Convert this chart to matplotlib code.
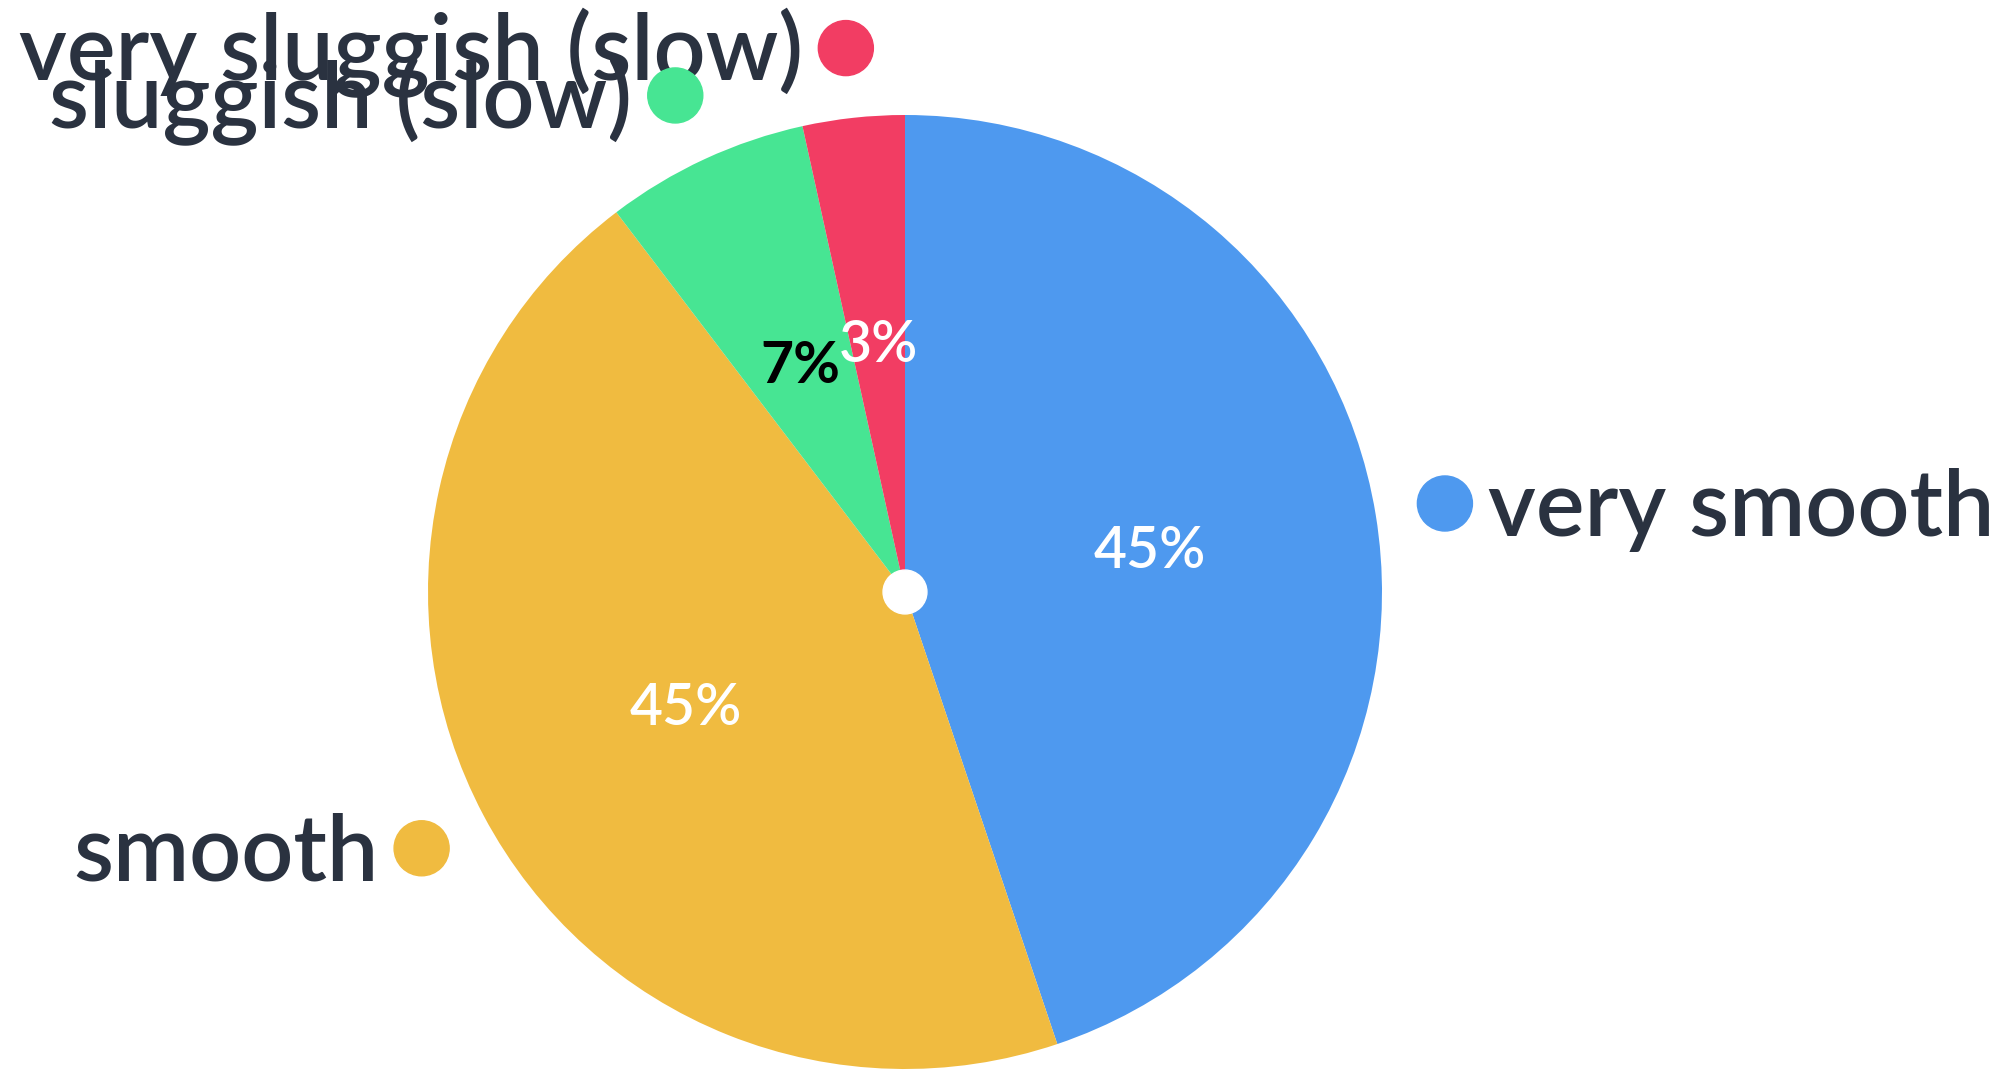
import numpy as np
import matplotlib.pyplot as plt
from matplotlib.patches import Circle

# données
categories = ["very smooth", "smooth", "sluggish (slow)", "very sluggish (slow)"]
valeurs = [13, 13, 2, 1]
couleurs = ["#4e99ef", "#f0bb40", "#47e593", "#f23d63"]
couleurs_pct = ["white", "white", "black", "white"]

plt.rcParams['font.family'] = ['Lato', 'DejaVu Sans']
texte_sombre = "#2a3240"

fig = plt.figure(figsize=(20.04, 10.71), dpi=100)
ax = fig.add_axes([0, 0, 1, 1])

wedges, textes, pcts = ax.pie(valeurs, colors=couleurs, startangle=90, counterclock=False,
                              autopct='%1.0f%%', pctdistance=0.52, radius=1,
                              wedgeprops=dict(linewidth=0),
                              textprops=dict(fontsize=41, fontweight='semibold'))

for t, c in zip(pcts, couleurs_pct):
    t.set_color(c)
    if c == "black":
        t.set_fontweight('bold')

# petit cercle blanc au centre
ax.add_patch(Circle((0, 0), 0.046, color="white", zorder=5))

# étiquettes extérieures avec pastille
r_pastille = 0.0577
for w, nom, c in zip(wedges, categories, couleurs):
    ang = np.deg2rad((w.theta1 + w.theta2) / 2)
    x, y = 1.147 * np.cos(ang), 1.147 * np.sin(ang)
    ax.add_patch(Circle((x, y), r_pastille, color=c, zorder=5))
    if x >= 0:
        ax.text(x + 0.09, y - 0.068, nom, ha='left', va='baseline', fontsize=66,
                fontweight='semibold', color=texte_sombre)
    else:
        ax.text(x - 0.09, y - 0.068, nom, ha='right', va='baseline', fontsize=66,
                fontweight='semibold', color=texte_sombre)

ax.set_aspect('auto')
ax.set_xlim(-905 / 477, (2004 - 905) / 477)
ax.set_ylim(-479 / 477, 592 / 477)
ax.axis('off')

fig.savefig("out.png", dpi=100, facecolor="white")
